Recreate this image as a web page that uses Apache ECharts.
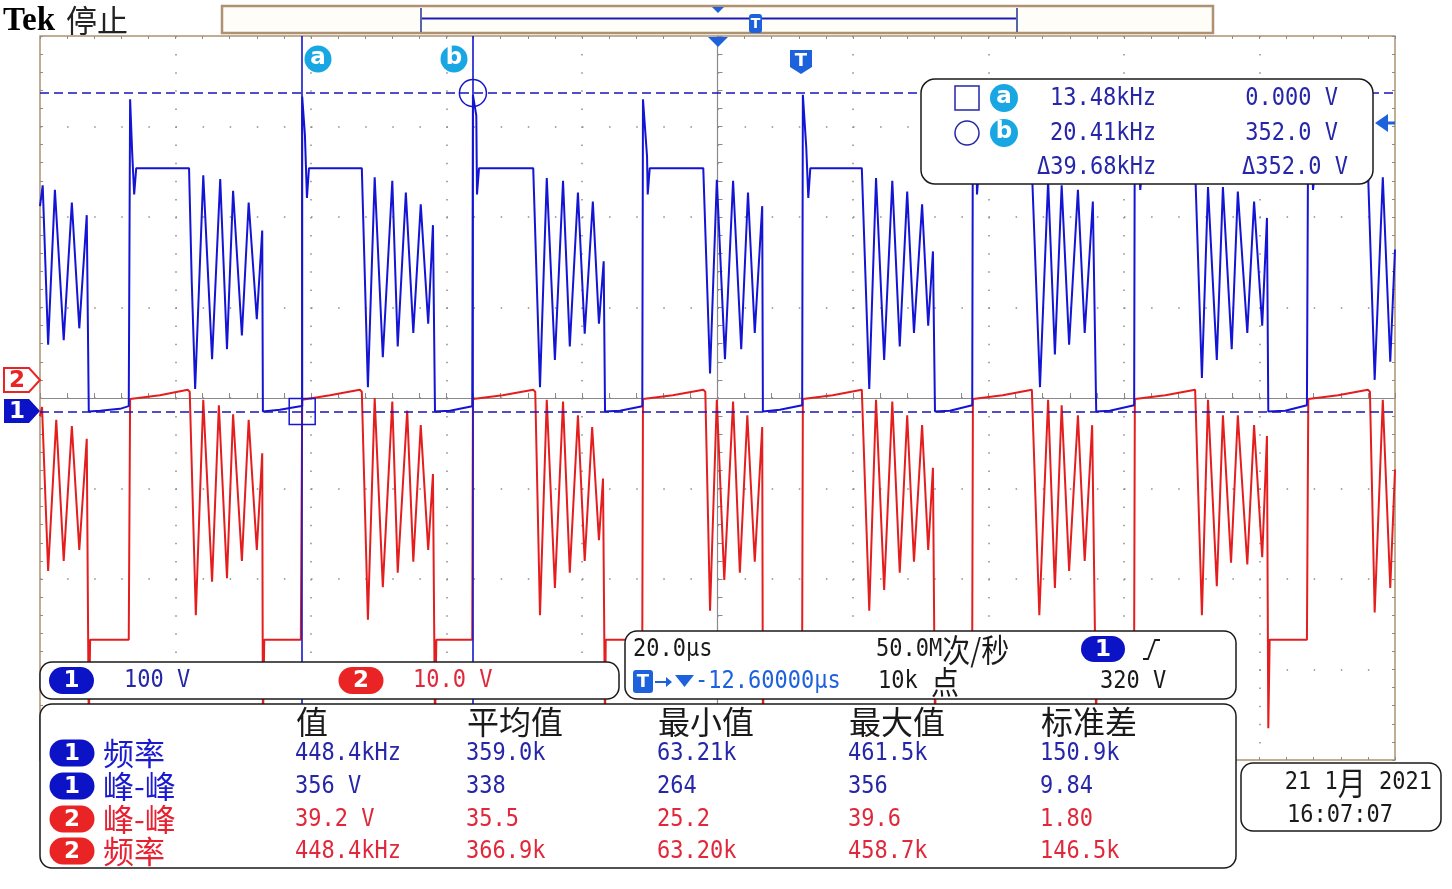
<!DOCTYPE html>
<html><head><meta charset="utf-8">
<script src="https://cdn.jsdelivr.net/npm/echarts@6/dist/echarts.min.js"></script>
<style>html,body{margin:0;padding:0;background:#fff}#c{width:1452px;height:889px}</style>
</head><body><div id="c"></div>
<script>
// ---------------- data ----------------
// time in microseconds relative to screen centre (20 us/div, 10 div)
const ch1Time = [
 -100.0,-99.6,-98.8,-97.8,-96.5,-95.3,-94.2,-93.1,-92.8,
 -91.1,-89.7,-88.2,-86.9,
 -86.7,-86.7,-86.4,-86.1,-85.8,-78.0,
 -77.6,-77.1,-75.9,-74.6,-73.4,-72.4,-71.5,-70.2,-69.2,-68.0,-67.2,-67.1,
 -64.6,-61.6,
 -61.3,-61.3,-60.9,-60.6,-60.3,-52.5,
 -51.6,-50.6,-49.4,-48.0,-47.2,-46.0,-44.9,-43.8,-42.7,-42.0,-41.7,
 -39.5,-36.2,
 -36.1,-36.1,-35.6,-35.5,-35.2,-27.2,
 -26.2,-25.2,-24.0,-22.8,-21.8,-20.6,-19.6,-18.4,-17.5,-16.8,-16.6,
 -14.4,-11.1,
 -11.0,-11.0,-10.4,-10.3,-10.0,-2.1,
 -1.1,-0.1,1.1,2.3,3.5,4.5,5.5,6.6,6.7,
 9.2,12.5,
 12.6,12.6,13.1,13.4,13.7,21.3,
 22.4,23.4,24.6,25.8,26.9,28.0,29.0,30.2,31.1,31.8,32.1,
 34.3,37.6,
 37.7,37.7,38.2,38.3,38.6,46.4,
 47.6,48.8,49.8,50.8,51.9,53.2,54.2,55.4,55.9,
 57.9,61.5,
 61.6,61.6,62.1,62.4,62.7,70.5,
 71.5,72.4,73.7,74.6,75.9,76.8,78.2,79.2,80.4,81.1,81.3,
 83.8,87.0,
 87.2,87.2,87.6,87.9,88.2,96.0,
 97.0,98.2,99.3,100.0
];
// CH1 volts (100 V/div)
const ch1Volts = [
 227,250,74,245,79,231,92,217,0,
 1,2,3,6,
 6,345,287,240,269,269,
 143,25,261,58,257,69,244,84,231,102,200,0,
 2,6,
 6,348,306,236,269,269,
 27,259,60,255,72,242,87,229,97,206,0,
 1,6,
 6,350,327,240,269,269,
 27,258,57,255,72,242,86,232,97,166,0,
 1,6,
 6,345,282,240,269,269,
 42,256,58,255,69,242,87,227,0,
 2,7,
 7,350,292,236,269,269,
 25,258,57,255,72,243,87,229,95,177,0,
 1,7,
 7,350,300,240,269,269,
 27,255,63,250,74,245,87,232,0,
 1,7,
 7,350,300,245,269,269,
 37,248,57,248,69,243,87,232,95,214,0,
 1,7,
 7,350,300,245,269,269,
 35,259,55,179
];
const ch2Time = [
 -100.0,-99.7,-98.8,-97.6,-96.5,-95.3,-94.2,-93.1,-92.8,-92.6,-86.9,
 -86.7,-86.7,-82.3,-78.2,
 -77.9,-77.0,-75.9,-74.6,-73.6,-72.4,-71.5,-70.2,-69.2,-68.0,-67.2,-67.1,-66.9,-61.5,
 -61.3,-61.3,-57.2,-52.8,
 -52.5,-51.6,-50.6,-49.4,-48.0,-47.2,-45.8,-44.9,-43.8,-42.7,-42.0,-41.7,-41.5,-36.2,
 -36.1,-36.1,-31.7,-27.2,
 -26.9,-26.2,-25.2,-24.0,-22.8,-21.8,-20.6,-19.6,-18.5,-17.5,-16.9,-16.6,-16.5,-11.1,
 -11.0,-11.0,-6.6,-2.1,
 -1.8,-1.1,-0.1,1.0,2.3,3.3,4.4,5.5,6.6,6.7,6.9,12.5,
 12.6,12.6,17.0,21.3,
 21.5,22.4,23.4,24.6,25.8,26.9,28.0,29.0,30.2,31.1,31.8,32.1,32.3,37.6,
 37.7,37.7,42.1,46.4,
 46.6,47.5,48.8,49.8,50.8,51.9,53.2,54.2,55.3,55.9,56.0,61.5,
 61.6,61.6,66.1,70.5,
 70.6,71.5,72.4,73.7,74.6,75.8,76.8,78.2,79.2,80.4,81.1,81.3,81.5,87.0,
 87.2,87.2,91.6,96.0,
 96.3,97.0,98.2,99.3,100.0
];
// CH2 volts (10 V/div)
const ch2Volts = [
 -4.0,-3.0,-21.1,-4.4,-20.0,-5.1,-18.8,-6.5,-38.5,-28.7,-28.7,
 -28.7,-2.1,-1.7,-1.1,
 -1.3,-26.0,-2.2,-22.3,-2.8,-21.9,-3.8,-20.0,-4.4,-18.8,-8.1,-38.5,-28.7,-28.7,
 -28.7,-2.2,-1.7,-1.1,
 -1.3,-26.5,-2.0,-22.9,-2.4,-21.3,-3.4,-20.1,-5.0,-18.8,-10.4,-38.5,-28.7,-28.7,
 -28.7,-2.1,-1.7,-1.1,
 -1.3,-26.0,-2.2,-23.0,-2.4,-21.3,-3.9,-20.0,-5.2,-17.7,-10.9,-38.5,-28.7,-28.7,
 -28.7,-2.1,-1.7,-1.1,
 -1.3,-25.5,-2.2,-22.1,-2.4,-21.3,-3.9,-20.1,-5.2,-38.5,-28.7,-28.7,
 -28.7,-2.1,-1.7,-1.1,
 -1.3,-25.5,-2.2,-23.2,-2.4,-21.3,-3.9,-20.1,-5.0,-18.8,-9.7,-38.5,-28.7,-28.7,
 -28.7,-2.1,-1.7,-1.1,
 -1.3,-26.0,-2.2,-23.0,-2.8,-21.1,-3.9,-20.0,-5.0,-38.5,-28.7,-28.7,
 -28.7,-2.1,-1.7,-1.1,
 -1.3,-26.0,-2.2,-22.8,-3.9,-20.2,-3.9,-20.4,-5.0,-19.6,-6.2,-38.5,-28.7,-28.7,
 -28.7,-2.1,-1.7,-1.1,
 -1.3,-25.7,-2.2,-23.0,-9.9
];
const cursorTimes = [-61.3, -36.1];   // cursor a, b (us)
const cursorVolts = [0, 352];         // cursor a, b (V, CH1)
const cursorFreq = ['13.48kHz', '20.41kHz', '\u039439.68kHz'];
const cursorVText = ['0.000 V', '352.0 V', '\u0394352.0 V'];
const triggerLevel = 320;
const measureHeaders = ['值', '平均值', '最小值', '最大值', '标准差'];
const measureLabels = ['频率', '峰-峰', '峰-峰', '频率'];
const measureChannels = ['1', '1', '2', '2'];
const measureValues = [
 ['448.4kHz', '359.0k', '63.21k', '461.5k', '150.9k'],
 ['356 V', '338', '264', '356', '9.84'],
 ['39.2 V', '35.5', '25.2', '39.6', '1.80'],
 ['448.4kHz', '366.9k', '63.20k', '458.7k', '146.5k']
];
const chScales = ['100 V', '10.0 V'];

// ---------------- styling ----------------
const BLUE_TRACE = '#1414d4', RED_TRACE = '#e41e1e';
const BLUE_TEXT = '#2626a8', RED_TEXT = '#e0283a', DARK = '#1a1a1a';
const PILL_BLUE = '#0c12c6', PILL_RED = '#ea2424', CYAN = '#19a7e4', TBLUE = '#1d62dc';
const TAN = '#ad9171', GRID = '#8c8c8c';
const MONO = "'DejaVu Sans Mono','Liberation Mono',monospace";
const CJK = "'Noto Sans CJK SC','Noto Sans',sans-serif";
const SCY = 1.12;

const ch1Data = ch1Time.map((t, i) => [t, ch1Volts[i]]);
const ch2Data = ch2Time.map((t, i) => [t, ch2Volts[i]]);

const G = [];
const Z = 100;
function txt(x, y, text, fill, font, align, extra) {
  const e = {type: 'text', x: x, y: y, z: Z + 2, scaleY: SCY,
    style: {text: text, fill: fill, font: font, align: align || 'left', verticalAlign: 'middle',
            textAlign: align || 'left', textVerticalAlign: 'middle'}};
  if (extra) Object.assign(e.style, extra);
  return e;
}
function box(x, y, w, h, r, fill, stroke, lw) {
  return {type: 'rect', z: Z, shape: {x: x, y: y, width: w, height: h, r: r},
    style: {fill: fill, stroke: stroke || null, lineWidth: lw || 0}};
}
function pill(cx, cy, w, h, fill, label) {
  G.push({type: 'rect', z: Z + 1, shape: {x: cx - w / 2, y: cy - h / 2, width: w, height: h, r: h / 2},
    style: {fill: fill}});
  G.push({type: 'text', x: cx, y: cy + 1, z: Z + 2,
    style: {text: label, fill: '#fff', font: "bold 23px 'DejaVu Sans'", align: 'center', verticalAlign: 'middle',
            textAlign: 'center', textVerticalAlign: 'middle'}});
}

// title
G.push({type: 'text', x: 3, y: 21, z: Z + 2, style: {text: 'Tek', fill: '#000', font: "bold 33px 'Liberation Serif'", verticalAlign: 'middle', textVerticalAlign: 'middle'}});
G.push({type: 'text', x: 66, y: 20, z: Z + 2, style: {text: '停止', fill: '#222', font: "31px " + CJK, verticalAlign: 'middle', textVerticalAlign: 'middle'}});
// record view bar
G.push({type: 'rect', z: Z, shape: {x: 222, y: 6, width: 991, height: 27}, style: {fill: '#fffdf8', stroke: TAN, lineWidth: 2.5}});
G.push({type: 'line', z: Z + 1, shape: {x1: 421, y1: 18.5, x2: 1017, y2: 18.5}, style: {stroke: '#1c1cb4', lineWidth: 2}});
G.push({type: 'line', z: Z + 1, shape: {x1: 421, y1: 8, x2: 421, y2: 32}, style: {stroke: '#5a64a8', lineWidth: 2}});
G.push({type: 'line', z: Z + 1, shape: {x1: 1017, y1: 8, x2: 1017, y2: 32}, style: {stroke: '#5a64a8', lineWidth: 2}});
G.push({type: 'polygon', z: Z + 2, shape: {points: [[712, 7], [724, 7], [718, 13]]}, style: {fill: TBLUE}});
G.push({type: 'rect', z: Z + 2, shape: {x: 749, y: 14, width: 13, height: 19, r: 3}, style: {fill: TBLUE}});
G.push({type: 'text', x: 755.5, y: 24, z: Z + 3, style: {text: 'T', fill: '#fff', font: "bold 14px 'DejaVu Sans'", align: 'center', verticalAlign: 'middle', textAlign: 'center', textVerticalAlign: 'middle'}});
// trigger position marker + T badge
G.push({type: 'polygon', z: Z + 2, shape: {points: [[708, 37], [728, 37], [718, 47]]}, style: {fill: TBLUE}});
G.push({type: 'polygon', z: Z + 2, shape: {points: [[790, 50], [812, 50], [812, 67], [801, 74], [790, 67]]}, style: {fill: TBLUE}});
G.push({type: 'text', x: 801, y: 61, z: Z + 3, style: {text: 'T', fill: '#fff', font: "bold 18px 'DejaVu Sans'", align: 'center', verticalAlign: 'middle', textAlign: 'center', textVerticalAlign: 'middle'}});
// cursor a / b labels
[[318, 'a'], [454, 'b']].forEach(function (c) {
  G.push({type: 'circle', z: Z + 2, shape: {cx: c[0], cy: 59, r: 13.5}, style: {fill: CYAN}});
  G.push({type: 'text', x: c[0], y: 58, z: Z + 3, style: {text: c[1], fill: '#fff', font: "bold 23px 'DejaVu Sans'", align: 'center', verticalAlign: 'middle', textAlign: 'center', textVerticalAlign: 'middle'}});
});
// trigger level arrow (right)
G.push({type: 'polygon', z: Z + 2, shape: {points: [[1375, 123], [1388, 114], [1388, 132]]}, style: {fill: TBLUE}});
G.push({type: 'line', z: Z + 2, shape: {x1: 1386, y1: 123, x2: 1395, y2: 123}, style: {stroke: TBLUE, lineWidth: 3}});
// channel markers (left)
G.push({type: 'polygon', z: Z + 2, shape: {points: [[4, 368], [29, 368], [40, 380], [29, 392], [4, 392]]}, style: {fill: '#fff', stroke: PILL_RED, lineWidth: 2}});
G.push({type: 'text', x: 17, y: 381, z: Z + 3, style: {text: '2', fill: PILL_RED, font: "bold 23px 'DejaVu Sans'", align: 'center', verticalAlign: 'middle', textAlign: 'center', textVerticalAlign: 'middle'}});
G.push({type: 'polygon', z: Z + 2, shape: {points: [[4, 399], [29, 399], [40, 411], [29, 423], [4, 423]]}, style: {fill: PILL_BLUE}});
G.push({type: 'text', x: 17, y: 412, z: Z + 3, style: {text: '1', fill: '#fff', font: "bold 23px 'DejaVu Sans'", align: 'center', verticalAlign: 'middle', textAlign: 'center', textVerticalAlign: 'middle'}});

// cursor readout box
G.push(box(921, 79, 452, 105, 14, '#fff', DARK, 1.5));
G.push({type: 'rect', z: Z + 1, shape: {x: 955, y: 86, width: 24, height: 24}, style: {fill: 'none', stroke: BLUE_TEXT, lineWidth: 1.5}});
G.push({type: 'circle', z: Z + 1, shape: {cx: 967, cy: 133, r: 12}, style: {fill: 'none', stroke: BLUE_TEXT, lineWidth: 1.5}});
[[98, 'a'], [133, 'b']].forEach(function (c) {
  G.push({type: 'circle', z: Z + 1, shape: {cx: 1004, cy: c[0], r: 14}, style: {fill: CYAN}});
  G.push({type: 'text', x: 1004, y: c[0] - 1, z: Z + 3, style: {text: c[1], fill: '#fff', font: "bold 23px 'DejaVu Sans'", align: 'center', verticalAlign: 'middle', textAlign: 'center', textVerticalAlign: 'middle'}});
});
G.push(txt(1050, 99, cursorFreq[0], BLUE_TEXT, '22px ' + MONO));
G.push(txt(1050, 134, cursorFreq[1], BLUE_TEXT, '22px ' + MONO));
G.push(txt(1037, 168, cursorFreq[2], BLUE_TEXT, '22px ' + MONO));
G.push(txt(1338, 99, cursorVText[0], BLUE_TEXT, '22px ' + MONO, 'right'));
G.push(txt(1338, 134, cursorVText[1], BLUE_TEXT, '22px ' + MONO, 'right'));
G.push(txt(1348, 168, cursorVText[2], BLUE_TEXT, '22px ' + MONO, 'right'));

// channel scale box
G.push(box(40, 662, 579, 37, 12, '#fff', DARK, 1.5));
pill(71.5, 680.5, 45, 27, PILL_BLUE, '1');
G.push(txt(124, 681, chScales[0], BLUE_TEXT, '22px ' + MONO));
pill(361, 680.5, 45, 27, PILL_RED, '2');
G.push(txt(413, 681, chScales[1], RED_TEXT, '22px ' + MONO));

// timebase box
G.push(box(625, 631, 611, 68, 12, '#fff', DARK, 1.5));
G.push(txt(633, 650, '20.0µs', DARK, '22px ' + MONO));
G.push(txt(876, 650, '{m|50.0M}{c|次/秒}', DARK, '22px ' + MONO, 'left',
  {rich: {m: {font: '22px ' + MONO, fill: DARK}, c: {font: '28px ' + CJK, fill: DARK}}}));
pill(1103, 649, 44, 26, PILL_BLUE, '1');
G.push({type: 'polyline', z: Z + 2, shape: {points: [[1143, 659], [1148, 659], [1155, 640], [1160, 640]]}, style: {stroke: DARK, lineWidth: 1.8, fill: null}});
G.push({type: 'rect', z: Z + 1, shape: {x: 633, y: 670, width: 20, height: 23, r: 3}, style: {fill: TBLUE}});
G.push({type: 'text', x: 643, y: 682, z: Z + 3, style: {text: 'T', fill: '#fff', font: "bold 18px 'DejaVu Sans'", align: 'center', verticalAlign: 'middle', textAlign: 'center', textVerticalAlign: 'middle'}});
G.push({type: 'line', z: Z + 2, shape: {x1: 655, y1: 682, x2: 668, y2: 682}, style: {stroke: TBLUE, lineWidth: 2}});
G.push({type: 'polygon', z: Z + 2, shape: {points: [[666, 677], [672, 682], [666, 687]]}, style: {fill: TBLUE}});
G.push({type: 'polygon', z: Z + 2, shape: {points: [[675, 675], [694, 675], [684.5, 687]]}, style: {fill: TBLUE}});
G.push(txt(695, 682, '-12.60000µs', TBLUE, '22px ' + MONO));
G.push(txt(878, 682, '{m|10k }{c|点}', DARK, '22px ' + MONO, 'left',
  {rich: {m: {font: '22px ' + MONO, fill: DARK}, c: {font: '28px ' + CJK, fill: DARK}}}));
G.push(txt(1100, 682, triggerLevel + ' V', DARK, '22px ' + MONO));

// measurement box
G.push(box(40, 704, 1196, 164, 12, '#fff', DARK, 1.5));
const colX = [295, 466, 657, 848, 1040];
const rowY = [754, 787, 820, 852];
measureHeaders.forEach(function (h, i) {
  G.push({type: 'text', x: colX[i] + 1, y: 722, z: Z + 2, style: {text: h, fill: DARK, font: '32px ' + CJK, verticalAlign: 'middle', textVerticalAlign: 'middle'}});
});
measureValues.forEach(function (row, r) {
  const isBlue = measureChannels[r] === '1';
  const col = isBlue ? BLUE_TEXT : RED_TEXT;
  pill(72, rowY[r] - 1, 45, 27, isBlue ? PILL_BLUE : PILL_RED, measureChannels[r]);
  G.push({type: 'text', x: 103, y: rowY[r] - 1, z: Z + 2, style: {text: measureLabels[r], fill: isBlue ? '#1a1ad0' : '#e82030', font: '31px ' + CJK, verticalAlign: 'middle', textVerticalAlign: 'middle'}});
  row.forEach(function (v, c) { G.push(txt(colX[c], rowY[r], v, col, '22px ' + MONO)); });
});

// date box
G.push(box(1241, 763, 200, 68, 12, '#fff', DARK, 1.5));
G.push(txt(1432, 783, '{m|21 1}{c|月}{m| 2021}', DARK, '22px ' + MONO, 'right',
  {rich: {m: {font: '22px ' + MONO, fill: DARK}, c: {font: '28px ' + CJK, fill: DARK}}}));
G.push(txt(1287, 816, '16:07:07', DARK, '22px ' + MONO));

// ---------------- chart ----------------
const chart = echarts.init(document.getElementById('c'), null, {renderer: 'canvas', width: 1452, height: 889});
const edgeTick = {show: true, inside: true, length: 3, lineStyle: {color: GRID, width: 1}};
const edgeMinor = {show: true, splitNumber: 5, length: 3, lineStyle: {color: GRID, width: 1}};
chart.setOption({
  animation: false,
  backgroundColor: '#ffffff',
  grid: {left: 40, top: 36, width: 1355, height: 724, show: true, borderColor: TAN, borderWidth: 1.5, backgroundColor: '#ffffff'},
  xAxis: [
    {type: 'value', min: -100, max: 100, interval: 20, position: 'bottom',
     axisLine: {show: true, onZero: true, onZeroAxisIndex: 0, lineStyle: {color: '#8a8a8a', width: 1.2}},
     axisTick: {show: true, inside: true, length: 5, lineStyle: {color: '#8a8a8a'}},
     minorTick: {show: true, splitNumber: 5, length: 5, lineStyle: {color: '#8a8a8a'}},
     axisLabel: {show: false},
     splitLine: {show: true, showMinLine: false, showMaxLine: false, lineStyle: {color: GRID, width: 1.5, type: [1.5, 16.6]}}},
    {type: 'value', min: -100, max: 100, interval: 20, position: 'top',
     axisLine: {show: false, onZero: false}, axisTick: edgeTick, minorTick: edgeMinor, axisLabel: {show: false}, splitLine: {show: false}},
    {type: 'value', min: -100, max: 100, interval: 20, position: 'bottom',
     axisLine: {show: false, onZero: false}, axisTick: edgeTick, minorTick: edgeMinor, axisLabel: {show: false}, splitLine: {show: false}}
  ],
  yAxis: [
    {type: 'value', min: -4, max: 4, interval: 1, position: 'left',
     axisLine: {show: true, onZero: true, onZeroAxisIndex: 0, lineStyle: {color: '#8a8a8a', width: 1.2}},
     axisTick: {show: true, inside: true, length: 5, lineStyle: {color: '#8a8a8a'}},
     minorTick: {show: true, splitNumber: 5, length: 5, lineStyle: {color: '#8a8a8a'}},
     axisLabel: {show: false},
     splitLine: {show: true, showMinLine: false, showMaxLine: false, lineStyle: {color: GRID, width: 1.5, type: [1.5, 25.6]}}},
    {type: 'value', min: -385, max: 415, show: false, splitLine: {show: false}},
    {type: 'value', min: -42, max: 38, show: false, splitLine: {show: false}},
    {type: 'value', min: -4, max: 4, interval: 1, position: 'left',
     axisLine: {show: false, onZero: false}, axisTick: edgeTick, minorTick: edgeMinor, axisLabel: {show: false}, splitLine: {show: false}},
    {type: 'value', min: -4, max: 4, interval: 1, position: 'right',
     axisLine: {show: false, onZero: false}, axisTick: edgeTick, minorTick: edgeMinor, axisLabel: {show: false}, splitLine: {show: false}}
  ],
  series: [
    {type: 'line', name: 'CH2', xAxisIndex: 0, yAxisIndex: 2, data: ch2Data, showSymbol: false, symbol: 'none',
     lineStyle: {color: RED_TRACE, width: 2}, z: 3, silent: true},
    {type: 'line', name: 'CH1', xAxisIndex: 0, yAxisIndex: 1, data: ch1Data, showSymbol: false, symbol: 'none',
     lineStyle: {color: BLUE_TRACE, width: 2}, z: 4, silent: true,
     markLine: {symbol: ['none', 'none'], silent: true, label: {show: false}, animation: false,
       data: [
         {xAxis: cursorTimes[0], lineStyle: {type: 'solid', color: '#1616cc', width: 1.6}},
         {xAxis: cursorTimes[1], lineStyle: {type: 'solid', color: '#1616cc', width: 1.6}},
         {yAxis: cursorVolts[0], lineStyle: {type: [9, 5], color: '#1616b8', width: 1.6}},
         {yAxis: cursorVolts[1], lineStyle: {type: [9, 5], color: '#1616b8', width: 1.6}}
       ]},
     markPoint: {silent: true, label: {show: false}, animation: false,
       data: [
         {coord: [cursorTimes[0], cursorVolts[0]], symbol: 'rect', symbolSize: 26,
          itemStyle: {color: 'rgba(0,0,0,0)', borderColor: '#1616cc', borderWidth: 1.5}},
         {coord: [cursorTimes[1], cursorVolts[1]], symbol: 'circle', symbolSize: 27,
          itemStyle: {color: 'rgba(0,0,0,0)', borderColor: '#1616cc', borderWidth: 1.5}}
       ]}}
  ],
  graphic: {elements: G}
});
</script>
</body></html>
